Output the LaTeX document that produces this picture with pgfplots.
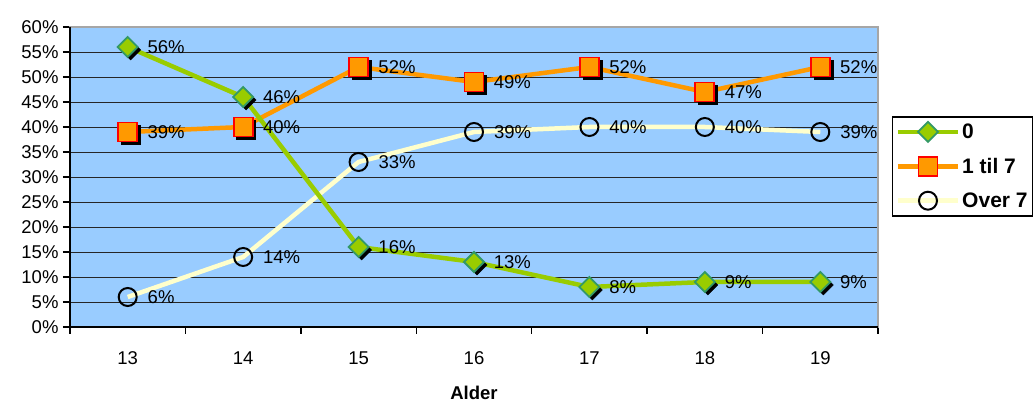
\documentclass[border=0pt]{standalone}
\usepackage{pgfplots}
\pgfplotsset{compat=1.18}
\usepackage{fontspec}
\setmainfont{Liberation Sans}
\definecolor{bgblue}{HTML}{99CCFF}
\definecolor{cgreen}{HTML}{99CC00}
\definecolor{cgreenb}{HTML}{339966}
\definecolor{corange}{HTML}{FF9900}
\definecolor{cred}{HTML}{FF0000}
\definecolor{cyell}{HTML}{FFFFCC}
\begin{document}
\begin{tikzpicture}
\useasboundingbox (0,0) rectangle (1035pt,403pt);
\begin{axis}[
  at={(70pt,76pt)}, anchor=south west,
  scale only axis, width=808pt, height=300pt,
  xmin=-0.5, xmax=6.5, ymin=0, ymax=60,
  xtick={0,...,6}, xticklabels={13,14,15,16,17,18,19},
  minor xtick={-0.5,0.5,...,6.5},
  ytick={0,5,...,60},
  yticklabel={\pgfmathprintnumber{\tick}\%},
  /pgf/number format/assume math mode=true,
  tick align=outside, tick pos=left,
  major tick length=7pt, minor tick length=7pt,
  x tick style={draw=none},
  minor x tick style={draw=black, line width=1.5pt},
  y tick style={draw=black, line width=1.5pt},
  ymajorgrids, grid style={black!85, line width=0.9pt},
  axis background/.style={fill=bgblue},
  axis line style={draw=gray!70, line width=1.2pt},
  tick label style={font=\fontsize{18.5}{20}\selectfont},
  xticklabel style={yshift=-14pt},
  yticklabel style={xshift=-1pt},
  xlabel={Alder}, xlabel style={font=\bfseries\fontsize{18.5}{20}\selectfont, yshift=-15pt},
  clip=false,
  nodes near coords={\pgfmathprintnumber{\pgfplotspointmeta}\%},
  every node near coord/.append style={font=\fontsize{18.5}{20}\selectfont, anchor=west, inner sep=0pt, xshift=19pt, yshift=0pt, black},
  legend cell align=left, reverse legend,
  legend style={at={(1.0173,0.7033)}, anchor=north west, draw=black, line width=1.5pt,
    font=\bfseries\fontsize{21}{23}\selectfont, inner xsep=3pt, inner ysep=5pt,
    /tikz/row sep=14pt, /tikz/every even column/.append style={column sep=3pt}},
  legend image code/.code={\draw[#1, mark repeat=2, mark phase=2] plot coordinates {(0pt,0pt) (30pt,0pt) (60pt,0pt)};},
]
% shadows
\addplot[forget plot, draw=none, only marks, mark=diamond*, mark size=10pt, mark options={fill=black, draw=black, xshift=3pt, yshift=-3pt, xscale=1.333}, nodes near coords=] coordinates {(0,56) (1,46) (2,16) (3,13) (4,8) (5,9) (6,9)};
\addplot[forget plot, draw=none, only marks, mark=square*, mark size=9.5pt, mark options={fill=black, draw=black, xshift=3pt, yshift=-3pt}, nodes near coords=] coordinates {(0,39) (1,40) (2,52) (3,49) (4,52) (5,47) (6,52)};
% over 7
\addplot[cyell, line width=4.5pt, mark=o, mark size=9pt, mark options={draw=black, line width=2pt, fill=none}] coordinates {(0,6) (1,14) (2,33) (3,39) (4,40) (5,40) (6,39)};
\addlegendentry{Over 7}
% 1 til 7
\addplot[corange, line width=4.5pt, mark=square*, mark size=9.5pt, mark options={fill=corange, draw=cred, line width=1.8pt}] coordinates {(0,39) (1,40) (2,52) (3,49) (4,52) (5,47) (6,52)};
\addlegendentry{1 til 7}
% 0
\addplot[cgreen, line width=4.5pt, mark=diamond*, mark size=10pt, mark options={fill=cgreen, draw=cgreenb, line width=1.8pt, xscale=1.333}] coordinates {(0,56) (1,46) (2,16) (3,13) (4,8) (5,9) (6,9)};
\addlegendentry{0}
\draw[black, line width=2pt] (axis description cs:0,1) -- (axis description cs:0,0) -- (axis description cs:1,0);
\end{axis}
\end{tikzpicture}
\end{document}
